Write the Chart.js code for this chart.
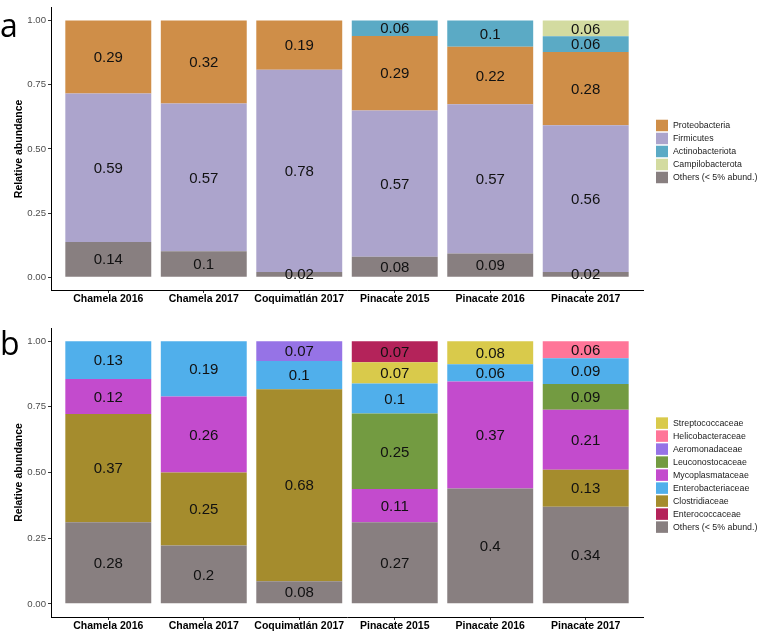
<!DOCTYPE html>
<html><head><meta charset="utf-8">
<script src="https://cdn.jsdelivr.net/npm/chart.js@4/dist/chart.umd.min.js"></script>
<style>
html,body{margin:0;padding:0;background:#fff;}
#wrap{position:relative;width:760px;height:632px;overflow:hidden;}
.pane{position:absolute;left:0;width:760px;height:316px;}
canvas{display:block;}
</style></head><body>
<div id="wrap">
<div class="pane" style="top:0"><canvas id="ca" width="760" height="316" style="width:760px;height:316px"></canvas></div>
<div class="pane" style="top:316px"><canvas id="cb" width="760" height="316" style="width:760px;height:316px"></canvas></div>
</div>
<script>
// ---------- data ----------
const categories = ['Chamela 2016','Chamela 2017','Coquimatlán 2017','Pinacate 2015','Pinacate 2016','Pinacate 2017'];
const yTicks = [0, 0.25, 0.5, 0.75, 1];

// Panel a (phylum), stack order bottom -> top
const othersA          = [0.14, 0.10, 0.02, 0.08, 0.09, 0.02];
const firmicutes       = [0.59, 0.57, 0.78, 0.57, 0.57, 0.56];
const proteobacteria   = [0.29, 0.32, 0.19, 0.29, 0.22, 0.28];
const actinobacteriota = [0,    0,    0,    0.06, 0.10, 0.06];
const campilobacterota = [0,    0,    0,    0,    0,    0.06];
const legendOrderA = ['Proteobacteria','Firmicutes','Actinobacteriota','Campilobacterota','Others (< 5% abund.)'];

// Panel b (family), stack order bottom -> top
const othersB            = [0.28, 0.20, 0.08, 0.27, 0.40, 0.34];
const clostridiaceae     = [0.37, 0.25, 0.68, 0,    0,    0.13];
const mycoplasmataceae   = [0.12, 0.26, 0,    0.11, 0.37, 0.21];
const leuconostocaceae   = [0,    0,    0,    0.25, 0,    0.09];
const enterobacteriaceae = [0.13, 0.19, 0.10, 0.10, 0.06, 0.09];
const streptococcaceae   = [0,    0,    0,    0.07, 0.08, 0];
const aeromonadaceae     = [0,    0,    0.07, 0,    0,    0];
const helicobacteraceae  = [0,    0,    0,    0,    0,    0.06];
const enterococcaceae    = [0,    0,    0,    0.07, 0,    0];
const legendOrderB = ['Streptococcaceae','Helicobacteraceae','Aeromonadaceae','Leuconostocaceae','Mycoplasmataceae','Enterobacteriaceae','Clostridiaceae','Enterococcaceae','Others (< 5% abund.)'];

// ---------- helpers ----------
const FONT = 'Arial, "Liberation Sans", Helvetica, sans-serif';

function buildDatasets(series) {
  // position "fill": each bar is scaled so its segments sum to 1
  const totals = categories.map((c, i) => series.reduce((s, d) => s + d.values[i], 0));
  return series.map(d => ({
    label: d.name,
    rawValues: d.values,
    data: d.values.map((v, i) => ({x: i, y: v / totals[i]})),
    backgroundColor: d.color,
    borderWidth: 0,
    categoryPercentage: 0.9,
    barPercentage: 1.0
  }));
}

const segLabels = {
  id: 'segLabels',
  afterDatasetsDraw(chart) {
    const ctx = chart.ctx;
    ctx.save();
    ctx.font = '15px ' + FONT;
    ctx.fillStyle = '#111';
    ctx.textAlign = 'center';
    ctx.textBaseline = 'middle';
    chart.data.datasets.forEach((ds, di) => {
      const meta = chart.getDatasetMeta(di);
      meta.data.forEach((el, i) => {
        const raw = ds.rawValues[i];
        if (!raw) return;
        const p = el.getProps(['x', 'y', 'base'], true);
        ctx.fillText(String(raw), p.x, (p.y + p.base) / 2 + 1);
      });
    });
    ctx.restore();
  }
};

const sideLegend = {
  id: 'sideLegend',
  afterDraw(chart, args, opts) {
    const ctx = chart.ctx;
    const ca = chart.chartArea;
    const order = opts.order;
    const step = 13, boxW = 12, boxH = 11.5;
    const h = order.length * step - (step - boxH);
    const top = (ca.top + ca.bottom) / 2 - h / 2 + 2.6;
    const x = ca.right + 13;
    ctx.save();
    ctx.font = '8.8px ' + FONT;
    ctx.textBaseline = 'middle';
    ctx.textAlign = 'left';
    order.forEach((name, k) => {
      const ds = chart.data.datasets.find(d => d.label === name);
      const y = top + k * step;
      ctx.fillStyle = ds.backgroundColor;
      ctx.fillRect(x, y, boxW, boxH);
      ctx.fillStyle = '#1a1a1a';
      ctx.fillText(name, x + boxW + 5, y + boxH / 2 + 0.5);
    });
    ctx.restore();
  }
};

const panelTag = {
  id: 'panelTag',
  afterDraw(chart, args, opts) {
    const ctx = chart.ctx;
    ctx.save();
    ctx.font = '32px "Open Sans", "DejaVu Sans", sans-serif';
    ctx.fillStyle = '#000';
    ctx.textAlign = 'left';
    ctx.textBaseline = 'alphabetic';
    ctx.fillText(opts.text, opts.x, opts.y);
    ctx.restore();
  }
};

function makeChart(canvasId, series, legendOrder, tag, padTop, xAxisH, tagY) {
  return new Chart(document.getElementById(canvasId), {
    type: 'bar',
    data: { datasets: buildDatasets(series) },
    plugins: [segLabels, sideLegend, panelTag],
    options: {
      responsive: false,
      animation: false,
      devicePixelRatio: 1,
      layout: { padding: { top: padTop, right: 117, left: 0, bottom: 0 } },
      plugins: {
        legend: { display: false },
        tooltip: { enabled: false },
        sideLegend: { order: legendOrder },
        panelTag: { text: tag, x: 0, y: tagY }
      },
      scales: {
        x: {
          type: 'linear',
          stacked: true,
          offset: false,
          min: -0.6,
          max: 5.6,
          afterBuildTicks: s => { s.ticks = categories.map((c, i) => ({ value: i })); },
          afterFit: s => { s.height = xAxisH; },
          ticks: {
            callback: v => categories[v],
            font: { family: FONT, size: 10.5, weight: 'bold' },
            color: '#000',
            padding: 0,
            maxRotation: 0,
            autoSkip: false
          },
          grid: { display: true, offset: false, drawOnChartArea: false, drawTicks: true, tickLength: 3, tickColor: '#333', lineWidth: 1 },
          border: { display: true, color: '#000', width: 1 }
        },
        y: {
          stacked: true,
          min: -0.05,
          max: 1.05,
          afterBuildTicks: s => { s.ticks = yTicks.map(v => ({ value: v })); },
          afterFit: s => { s.width = 51; },
          ticks: {
            callback: v => Number(v).toFixed(2),
            font: { family: FONT, size: 9.6 },
            color: '#4d4d4d',
            padding: 2
          },
          title: {
            display: true,
            text: 'Relative abundance',
            font: { family: FONT, size: 10.5, weight: 'bold' },
            color: '#000',
            padding: { top: 13, bottom: 0 }
          },
          grid: { display: true, drawOnChartArea: false, drawTicks: true, tickLength: 3, tickColor: '#333', lineWidth: 1 },
          border: { display: true, color: '#000', width: 1 }
        }
      }
    }
  });
}

makeChart('ca', [
  { name: 'Others (< 5% abund.)', values: othersA,          color: '#887F80' },
  { name: 'Firmicutes',           values: firmicutes,       color: '#ACA4CC' },
  { name: 'Proteobacteria',       values: proteobacteria,   color: '#CF8E48' },
  { name: 'Actinobacteriota',     values: actinobacteriota, color: '#5BAAC5' },
  { name: 'Campilobacterota',     values: campilobacterota, color: '#D3DBA0' }
], legendOrderA, 'a', 1, 26, 37);

makeChart('cb', [
  { name: 'Others (< 5% abund.)', values: othersB,            color: '#887F80' },
  { name: 'Clostridiaceae',       values: clostridiaceae,     color: '#A58C2D' },
  { name: 'Mycoplasmataceae',     values: mycoplasmataceae,   color: '#C34BCD' },
  { name: 'Leuconostocaceae',     values: leuconostocaceae,   color: '#739B41' },
  { name: 'Enterobacteriaceae',   values: enterobacteriaceae, color: '#50AFEB' },
  { name: 'Streptococcaceae',     values: streptococcaceae,   color: '#D9CA4B' },
  { name: 'Aeromonadaceae',       values: aeromonadaceae,     color: '#9673E6' },
  { name: 'Helicobacteraceae',    values: helicobacteraceae,  color: '#FF7598' },
  { name: 'Enterococcaceae',      values: enterococcaceae,    color: '#B4235A' }
], legendOrderB, 'b', 12, 15, 39);
</script>
</body></html>
